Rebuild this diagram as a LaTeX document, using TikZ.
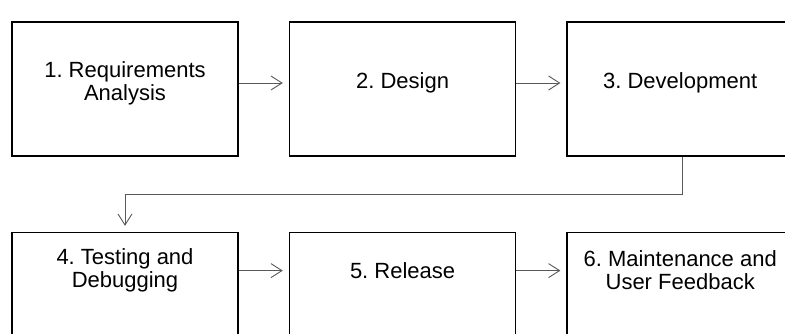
\documentclass[tikz,border=0pt]{standalone}
\usepackage{fontspec}
\setmainfont{Liberation Sans}
\usetikzlibrary{positioning}
\usetikzlibrary{arrows.meta}
\frenchspacing

\begin{document}
\begin{tikzpicture}[x=1pt,y=-1pt]
			\tikzstyle{StepStyle}  = [draw = black, line width = 1.6pt, minimum width = 226pt, minimum height = 134pt, inner sep = 0pt]
			\tikzstyle{LabelStyle} = [align = center, font = \fontsize{22}{23}\selectfont, inner sep = 0pt]
			\tikzstyle{EdgeStyle}  = [draw = black!65, line width = 0.9pt, -{Straight Barb[length=11pt,width=14pt]}, shorten > = 6pt]
			\clip (0,0) rectangle (785,333);
			\useasboundingbox (0,0) rectangle (785,333);
			% first row
			\node[StepStyle] (s1) at (125,89) {};
			\node[StepStyle, right = 50pt of s1] (s2) {};
			\node[StepStyle, right = 50pt of s2] (s3) {};
			% second row
			\node[StepStyle, below = 75pt of s1] (s4) {};
			\node[StepStyle, right = 50pt of s4] (s5) {};
			\node[StepStyle, right = 50pt of s5] (s6) {};
			\node[LabelStyle] (t1) at ([yshift=6pt]s1.center) {1. Requirements\\Analysis};
			\node[LabelStyle] (t2) at ([yshift=6pt]s2.center) {2. Design};
			\node[LabelStyle] (t3) at ([yshift=6pt]s3.center) {3. Development};
			\node[LabelStyle] (t4) at ([yshift=29pt]s4.center) {4. Testing and\\Debugging};
			\node[LabelStyle] (t5) at ([yshift=29pt]s5.center) {5. Release};
			\node[LabelStyle] (t6) at ([yshift=29pt]s6.center) {6. Maintenance and\\User Feedback};
			\draw[EdgeStyle] (s1.east |- t1) -- (s2.west |- t1);
			\draw[EdgeStyle] (s2.east |- t2) -- (s3.west |- t2);
			\draw[EdgeStyle] ([xshift=2pt]s3.south) -- ++(0,38) -| (s4.north);
			\draw[EdgeStyle] (s4.east |- t4) -- (s5.west |- t4);
			\draw[EdgeStyle] (s5.east |- t5) -- (s6.west |- t5);
		\end{tikzpicture}
\end{document}
